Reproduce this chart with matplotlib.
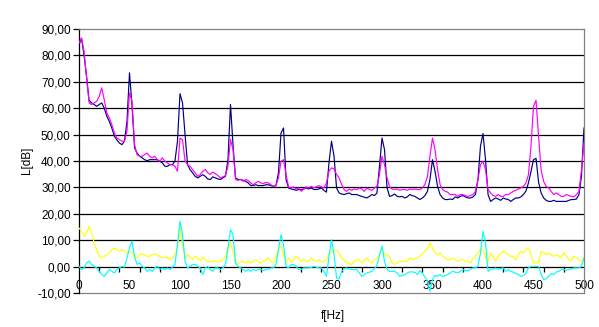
import numpy as np
import matplotlib
matplotlib.use("Agg")
import matplotlib.pyplot as plt
from matplotlib.ticker import FixedLocator, FuncFormatter

plt.rcParams['font.family'] = ['Liberation Sans', 'DejaVu Sans']

# frequency axis: 0 .. 500 Hz, step 2.5 Hz
freq = np.arange(0, 500.01, 2.5)

navy = [
    84, 86.5, 80, 72, 63, 62, 61.4, 60.7, 61.4, 62,
    60, 57, 55, 52.5, 49.4, 48, 46.8, 46.2, 47.5, 55,
    73.4, 61, 45, 43, 41.8, 41.2, 40.5, 40.1, 40.5, 40.5,
    40.5, 40.5, 39.9, 39.3, 38, 38, 38.6, 38.6, 40, 47.5,
    65.5, 62, 50, 38.6, 36.7, 35.5, 34.2, 33.6, 34.2, 34.8,
    34.2, 33.2, 33, 34, 33.6, 33.2, 33, 33.6, 34.2, 40.5,
    61.4, 46, 33.6, 33, 33, 32.7, 32.3, 31.7, 30.7, 30.7,
    31, 30.7, 30.7, 30.7, 31, 31, 30.7, 30.4, 30.7, 35.5,
    50.6, 52.5, 33, 29.8, 29.4, 29.2, 28.9, 29.2, 29.2, 29.4,
    29.8, 29.4, 29.8, 29.2, 29.2, 29.4, 29.8, 28.9, 28.2, 39.3,
    47.5, 41.8, 29.8, 27.9, 27.5, 27.3, 27.6, 27.9, 27.3, 27.3,
    27.3, 26.9, 26.6, 26.3, 26, 26.6, 27.3, 26.9, 27.9, 38,
    48.7, 44.3, 29.8, 26.6, 26.9, 27.5, 26.6, 26.4, 26.6, 26,
    26.4, 27.3, 26.9, 26.6, 26, 25.4, 26, 26.9, 28.5, 33,
    40.5, 36.1, 30.4, 27.3, 26, 25.4, 25.4, 25.6, 25.4, 26.4,
    26, 26.6, 26.9, 26.4, 26, 26, 26.4, 27.3, 32.9, 45.6,
    50.4, 40.5, 27.3, 24.7, 25.4, 26, 25.6, 25.1, 26, 25.6,
    25.4, 24.7, 25.4, 26, 26, 26.4, 27.3, 28.6, 31.7, 36,
    40.5, 41, 32, 28, 26, 25.1, 24.7, 24.7, 25.1, 24.7,
    24.7, 24.7, 24.7, 24.7, 25.1, 25.4, 25.4, 25.6, 27.3, 34.2,
    52.5,
]

magenta = [
    84.7, 86.6, 81.6, 71.5, 62, 61.4, 62, 62.6, 64.5, 67.7,
    63.2, 58.2, 56.3, 53.8, 50.6, 48.7, 48.1, 47.5, 47.5, 51.3,
    65.8, 62.6, 46.2, 42.4, 41.8, 41.8, 42.4, 43, 41.8, 41.2,
    41.8, 40.5, 39.9, 41.2, 39.9, 39.3, 38.6, 38.6, 38, 36.1,
    48.7, 48, 40, 38.6, 38, 36.7, 35.5, 34.2, 34.8, 36.1,
    36.8, 35.5, 34.9, 35.8, 35.2, 34.5, 33.6, 34, 34.5, 38,
    48.1, 44.3, 33, 32.7, 33, 32.3, 33, 32.6, 31.7, 31,
    31.7, 32.3, 31.7, 31.4, 31.9, 31.7, 31, 30.4, 30.7, 33.6,
    39.9, 40.5, 34.9, 30.2, 29.8, 30.2, 29.4, 29.8, 28.5, 29.4,
    30.2, 29.8, 30.4, 29.8, 30.2, 30.7, 30.2, 29.8, 31.7, 36.1,
    37.4, 37, 34.9, 33.6, 31.1, 29.2, 28.5, 29.4, 28.9, 29.4,
    29.2, 29.8, 29.4, 28.5, 29.8, 29.2, 28.9, 29.8, 30.4, 34.9,
    41.8, 38.6, 33.6, 30.2, 29.4, 29.2, 29.4, 28.9, 29.2, 29.2,
    28.9, 29.4, 29.2, 29.4, 29.2, 29.2, 29.8, 31.1, 34.2, 41.8,
    48.7, 44.3, 36.8, 31.1, 29.2, 28.5, 28.2, 27.3, 27.3, 27.3,
    26.6, 27.3, 27.3, 26.9, 26.6, 26.9, 27.3, 28.5, 32.9, 38.6,
    39.9, 36.7, 29.2, 27.9, 26.9, 26.6, 27.3, 26.6, 26.6, 27.3,
    27.3, 27.9, 28.5, 28.9, 29.4, 29.8, 30.4, 31.7, 34.8, 45.6,
    60.7, 63, 49.4, 36.7, 32.3, 30.4, 29.8, 28.5, 27.3, 27.9,
    27.3, 26.6, 26.6, 27.3, 26.9, 26.6, 26.4, 27.3, 28.5, 36.7,
    46.8,
]

yellow = [
    14.6, 13.4, 11.5, 12.8, 15.3, 12.8, 9, 6.5, 3.9, 3.3,
    3.9, 4.5, 5.2, 6.4, 7.1, 6.4, 5.8, 6.4, 6, 5.2,
    5.8, 5.2, 3.9, 3.3, 4.5, 4.8, 4.5, 3.9, 3.9, 4.5,
    4.8, 4.5, 3.9, 3.3, 3.6, 3.3, 2.7, 3.3, 4.5, 7.1,
    15.5, 8.3, 3.3, 4.5, 3.6, 2.7, 3.9, 3.3, 2.3, 3.6,
    2.7, 2, 1.8, 2, 2.3, 1.8, 2, 2.7, 3.9, 7.1,
    9, 5.8, 1.4, 1, 1.8, 2, 1.4, 2, 1.4, 2,
    2.7, 1.8, 1.4, 2, 2.3, 3.3, 2, 1.4, 3.9, 6.5,
    7.7, 4.5, 2, 3.3, 1.6, 2.6, 3.9, 3.3, 2, 2.6,
    2, 2, 3.3, 2.3, 2, 2.6, 1.8, 2, 2.6, 4.5,
    5.2, 6.2, 6.2, 5.2, 3.3, 2.4, 1.4, 1.2, 0.8, 2,
    2.4, 2.6, 1.4, 2.4, 3.3, 2, 1.4, 2.6, 3.3, 4.5,
    7.1, 4.5, 4.5, 3.9, 1.4, 0.8, 1.4, 2, 2, 2,
    2, 3.3, 2.6, 2.9, 3.3, 3.9, 4.9, 5.8, 6.7, 9,
    7, 5.2, 4.5, 5.2, 3.9, 3.3, 2.6, 2.6, 3.3, 2.6,
    2, 2.6, 2.6, 2, 2, 1.4, 2.9, 3.9, 5.2, 6.7,
    6.4, 3.3, 2, 5.2, 3.9, 2, 3.9, 4.9, 5.8, 5.2,
    4.5, 3.9, 3.9, 2.6, 4.5, 5.8, 5.2, 6.4, 7.1, 4.5,
    1.4, 1.4, 1.4, 5.8, 5.2, 4.5, 5.2, 4.5, 3.9, 4.5,
    4, 3.3, 5.2, 4, 2.6, 2.3, 3.9, 3.3, 2.6, 2,
    3.3,
]

cyan = [
    0.1, -1.1, -0.5, 1.4, 2, 0.8, 0.1, -0.5, -1.8, -3,
    -3.7, -2.4, -1.1, -1.8, -2.4, -1.1, -0.5, 0.1, -0.2, 3.3,
    7.1, 9.6, 3.9, 0.8, 1.4, 0.1, -0.5, -1.8, -1.1, -1.8,
    -0.5, 0.1, -1.1, -0.5, -1.1, -0.5, -1.1, -0.2, 0.8, 8.3,
    17.2, 12.1, 2, -0.5, 0.1, 0.8, 0.8, 0.1, -0.5, -3,
    -0.5, 0.1, -1.1, -1.8, -0.5, -0.5, -1.1, -0.5, 0.8, 7.1,
    14, 12.1, 1.4, 0.1, -0.5, -1.1, -1.8, -1.1, -1.8, -1.1,
    -1.5, -1.1, -1.1, -1.5, -1.1, -1.1, -0.5, -0.5, 0.8, 6.4,
    12.1, 8.3, 0.1, -0.5, 0.8, 0.8, 0.1, -1.1, -1.1, -0.5,
    -0.5, -0.5, -0.3, 0.1, -0.2, -0.5, -0.5, -1.8, -3.7, 3.9,
    10.2, 4.6, -4.3, -4.7, -1.8, -0.9, -0.5, -0.9, -1.1, -1.1,
    -1.1, -2.4, -3.7, -3, -2.4, -2.1, -1.8, -0.7, 0.4, 4.5,
    7.7, 2, -1.1, -1.8, -1.8, -1.8, -2.4, -3.7, -3.3, -3,
    -2.4, -2, -2, -2.2, -3, -1.5, -2.6, -3.9, -5.5, -9.3,
    -4.9, -3.4, -3.7, -3, -3.7, -3.4, -3, -2.4, -1.8, -2.1,
    -2.4, -1.8, -1.1, -1.5, -1.5, -1.1, -0.5, -0.5, 0.1, 5.2,
    13.4, 9, -1.8, -1.1, -0.9, -0.5, -1.1, -0.7, -0.5, -1.8,
    -1.1, -1.8, -2.1, -2.6, -3, -3.7, -3.4, -2.6, -0.5, 0.1,
    0.1, 0.1, 0.1, -3, -4.9, -4.7, -3.7, -2.6, -3, -2.1,
    -1.8, -1.1, -1.1, -1.4, -1.1, -0.9, -0.5, -0.5, -0.5, 0.1,
    3.3,
]

y_ticks = [-10, 0, 10, 20, 30, 40, 50, 60, 70, 80, 90]
x_labels = [0, 50, 100, 150, 200, 250, 300, 350, 400, 450, 500]
x_minor = list(range(0, 501, 20))

W, H = 599, 327
fig = plt.figure(figsize=(W / 100, H / 100), dpi=100)
fig.patch.set_facecolor('white')
ax = fig.add_axes([79 / W, 1 - 293 / H, (584 - 79) / W, (293 - 29) / H])

# gridlines
for v in y_ticks[2:-1]:
    ax.axhline(v, color='black', lw=0.9, zorder=1)
ax.axhline(-10, color='#808080', lw=0.9, zorder=1, clip_on=False)

lw = 0.85
ax.plot(freq, navy, color='#000080', lw=lw, zorder=3)
ax.plot(freq, magenta, color='#FF00FF', lw=lw, zorder=4)
ax.plot(freq, yellow, color='#FFFF00', lw=lw, zorder=5)
ax.plot(freq, cyan, color='#00FFFF', lw=lw, zorder=6)

ax.set_xlim(0, 500)
ax.set_ylim(-10, 90)

for s in ['top', 'right']:
    ax.spines[s].set_color('#808080')
    ax.spines[s].set_linewidth(0.9)
ax.spines['left'].set_color('black')
ax.spines['left'].set_linewidth(0.9)
ax.spines['bottom'].set_position(('data', 0))
ax.spines['bottom'].set_color('black')
ax.spines['bottom'].set_linewidth(0.9)
ax.spines['bottom'].set_zorder(2)

ax.set_yticks(y_ticks)
ax.yaxis.set_major_formatter(FuncFormatter(lambda v, p: f"{v:.2f}".replace('.', ',')))
ax.tick_params(axis='y', direction='out', length=4, width=0.9, pad=2, labelsize=8.5, color='black')

ax.xaxis.set_major_locator(FixedLocator(x_labels))
ax.xaxis.set_minor_locator(FixedLocator(x_minor))
ax.tick_params(axis='x', which='major', length=0, pad=9.5, labelsize=8.5)
ax.tick_params(axis='x', which='minor', direction='out', length=3.5, width=0.9, color='black')

fig.text(333 / W, 1 - 316 / H, 'f[Hz]', ha='center', va='center', fontsize=8.5)
fig.text(27 / W, 1 - 160 / H, 'L[dB]', ha='center', va='center', rotation=90, fontsize=8.5)

fig.savefig('out.png', dpi=100, facecolor='white')
